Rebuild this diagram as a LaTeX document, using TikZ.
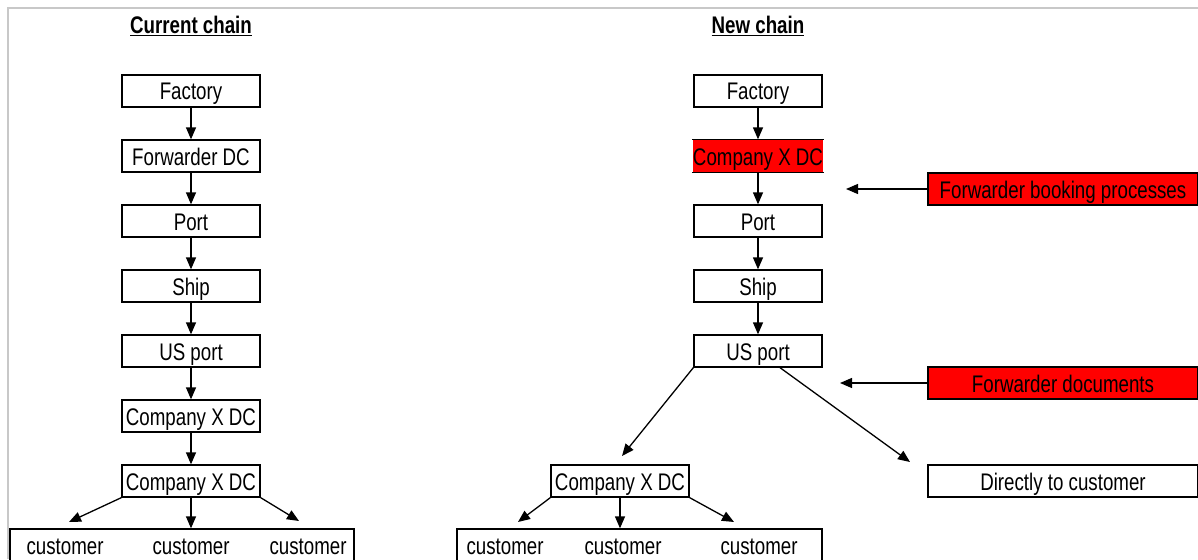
\documentclass[tikz,border=0pt]{standalone}
\usepackage{fontspec}
\setmainfont{Liberation Sans}[FakeStretch=0.78]
\usepackage{xcolor}
\usetikzlibrary{calc}
\usetikzlibrary{arrows.meta}
\usetikzlibrary{positioning}

\definecolor{framegray}{RGB}{200,200,200}

\tikzset{
  stage/.style={draw, line width=1.3pt, minimum width=128pt, minimum height=32pt, inner sep=0pt, text height=19pt, text depth=1pt, font=\fontsize{24}{26}\selectfont},
  widestage/.style={stage, minimum width=138pt},
  flag/.style={stage, fill=red, minimum width=270pt},
  cust/.style={inner sep=0pt, font=\fontsize{24}{26}\selectfont},
  title/.style={font=\fontsize{24}{26}\selectfont\bfseries},
  arr/.style={line width=1.3pt, -{Triangle[length=12pt,width=10pt]}},
}

\begin{document}
\begin{tikzpicture}[x=1pt, y=-1pt]
  \useasboundingbox (0,0) rectangle (1198,559);
  \clip (0,0) rectangle (1198,559);
  \draw[framegray, line width=2pt] (8,559) -- (8,8.5) -- (1198,8.5);

  % current chain
  \node[title] at (191,26) (curT) {\underline{Current chain}};
  \node[widestage] at (191,91) (facA) {Factory};
  \node[widestage] at (191,156) (fwdA) {Forwarder DC};
  \node[widestage] at (191,221) (portA) {Port};
  \node[widestage] at (191,286) (shipA) {Ship};
  \node[widestage] at (191,351) (usA) {US port};
  \node[widestage] at (191,416) (dcA) {Company X DC};
  \node[widestage] at (191,481) (dcB) {Company X DC};
  \node[draw, line width=1.3pt, minimum width=344pt, minimum height=50pt] at (182,554) (barA) {};
  \node[cust] at (65,547) (custA) {customer};
  \node[cust] at (191,547) (custB) {customer};
  \node[cust] at (308,547) (custC) {customer};
  \coordinate (tipA) at (69,522);
  \coordinate (tipC) at (299,521);

  \draw[arr] (facA) -- (fwdA);
  \draw[arr] (fwdA) -- (portA);
  \draw[arr] (portA) -- (shipA);
  \draw[arr] (shipA) -- (usA);
  \draw[arr] (usA) -- (dcA);
  \draw[arr] (dcA) -- (dcB);
  \draw[arr] (dcB.south west) -- (tipA);
  \draw[arr] (dcB.south) -- (barA.north -| dcB);
  \draw[arr] (dcB.south east) -- (tipC);

  % new chain
  \node[title] at (758,26) (newT) {\underline{New chain}};
  \node[stage] at (758,91) (facN) {Factory};
  \node[stage, draw=none, fill=red] at (758,156) (dcN) {Company X DC};
  \draw[line width=1.3pt] (dcN.north west) -- (dcN.north east) (dcN.south west) -- (dcN.south east);
  \node[stage] at (758,221) (portN) {Port};
  \node[stage] at (758,286) (shipN) {Ship};
  \node[stage] at (758,351) (usN) {US port};
  \node[widestage] at (620,481) (dcM) {Company X DC};
  \node[draw, line width=1.3pt, minimum width=365pt, minimum height=50pt] at (639.5,554) (barN) {};
  \node[cust] at (505,547) (custD) {customer};
  \node[cust] at (623,547) (custE) {customer};
  \node[cust] at (759,547) (custF) {customer};
  \node[stage, minimum width=270pt] at (1063,481) (direct) {Directly to customer};
  \node[flag] at (1063,189) (booking) {Forwarder booking processes};
  \node[flag] at (1063,383) (docs) {Forwarder documents};
  \coordinate (tipM) at (622,456);
  \coordinate (tipDir) at (910,462);
  \coordinate (tipBook) at (846,189);
  \coordinate (tipDocs) at (840,383);
  \coordinate (tipD) at (518,522);
  \coordinate (tipF) at (734,522);

  \draw[arr] (facN) -- (dcN);
  \draw[arr] (dcN) -- (portN);
  \draw[arr] (portN) -- (shipN);
  \draw[arr] (shipN) -- (usN);
  \draw[arr] (usN.south west) -- (tipM);
  \draw[arr] ($(usN.south)+(22,0)$) -- (tipDir);
  \draw[arr] (booking.west) -- (tipBook);
  \draw[arr] (docs.west) -- (tipDocs);
  \draw[arr] (dcM.south west) -- (tipD);
  \draw[arr] (dcM.south) -- (barN.north -| dcM);
  \draw[arr] (dcM.south east) -- (tipF);
\end{tikzpicture}
\end{document}
